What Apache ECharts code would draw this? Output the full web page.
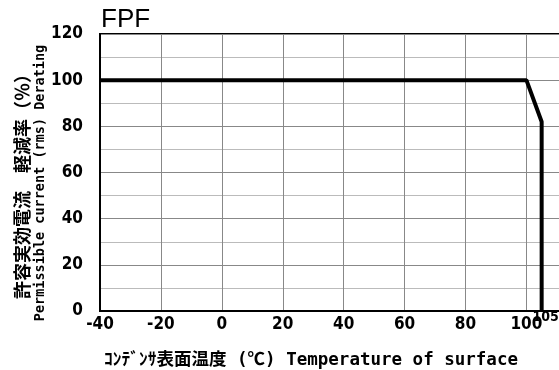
<!DOCTYPE html>
<html><head><meta charset="utf-8">
<script src="https://cdn.jsdelivr.net/npm/echarts@6/dist/echarts.min.js"></script>
<style>html,body{margin:0;padding:0;background:#fff}#c{width:559px;height:370px}</style>
</head><body><div id="c"></div>
<script>
var temps = [-40, 100, 105, 105];
var derating = [100, 100, 82, 0];
var xTicks = [-40, -20, 0, 20, 40, 60, 80, 100];
var yTicks = [0, 20, 40, 60, 80, 100, 120];
var endLabel = '105';
var titleText = 'FPF';
var xName = 'ｺﾝﾃﾞﾝｻ表面温度 (℃) Temperature of surface';
var yNameJa = '許容実効電流　軽減率（％）';
var yNameEn = 'Permissible current (rms) Derating';

var chart = echarts.init(document.getElementById('c'), null, {renderer: 'canvas'});
var tickFont = {fontFamily: '"DejaVu Sans Condensed", "Liberation Sans", sans-serif', fontWeight: 'bold', fontSize: 17, color: '#000'};
var pts = temps.map(function (t, i) { return [t, derating[i]]; });
chart.setOption({
  animation: false,
  grid: {left: 100, top: 34, width: 464.5, height: 277, show: true, borderColor: '#000', borderWidth: 2,
    containLabel: false, outerBoundsMode: 'none'},
  xAxis: {
    type: 'value', min: -40, max: 112.5, interval: 20,
    axisLine: {show: true, onZero: false, lineStyle: {color: '#000', width: 2}},
    axisTick: {show: false},
    axisLabel: Object.assign({margin: 5, formatter: function (v) { return xTicks.indexOf(v) >= 0 ? String(v) : ''; }}, tickFont),
    splitLine: {show: true, lineStyle: {color: '#888', width: 1}}
  },
  yAxis: {
    type: 'value', min: 0, max: 120, interval: 20,
    axisLine: {show: true, onZero: false, lineStyle: {color: '#000', width: 2}},
    axisTick: {show: false},
    axisLabel: Object.assign({margin: 17, formatter: function (v) { return yTicks.indexOf(v) >= 0 ? String(v) : ''; }}, tickFont),
    splitLine: {show: true, lineStyle: {color: '#888', width: 1}},
    minorTick: {show: false, splitNumber: 2},
    minorSplitLine: {show: true, lineStyle: {color: '#bbb', width: 1}}
  },
  series: [{
    type: 'line', data: pts, symbol: 'none', showSymbol: false,
    lineStyle: {color: '#000', width: 4},
    label: {show: false},
    markPoint: {
      symbol: 'rect', symbolSize: 0,
      data: [{coord: pts[pts.length - 1], value: endLabel}],
      label: {show: true, position: 'bottom', distance: 0, offset: [4, -1], formatter: endLabel,
        fontFamily: '"DejaVu Sans Condensed", sans-serif', fontWeight: 'bold', fontSize: 14, color: '#000'}
    }
  }],
  graphic: [
    {type: 'text', left: 101, top: 7, style: {text: titleText, font: '26px "Liberation Sans", sans-serif', fill: '#000'}},
    {type: 'text', x: 311, y: 360, style: {text: xName, font: 'bold 17.5px "DejaVu Sans Mono", "Noto Sans CJK JP", monospace', fill: '#000', align: 'center', verticalAlign: 'middle'}},
    {type: 'text', x: 22, y: 182, rotation: Math.PI / 2, style: {text: yNameJa, font: 'bold 18px "Noto Sans CJK JP", sans-serif', fill: '#000', align: 'center', verticalAlign: 'middle'}},
    {type: 'text', x: 40, y: 183, rotation: Math.PI / 2, style: {text: yNameEn, font: 'bold 13.5px "DejaVu Sans Mono", monospace', fill: '#000', align: 'center', verticalAlign: 'middle'}}
  ]
});
</script></body></html>
